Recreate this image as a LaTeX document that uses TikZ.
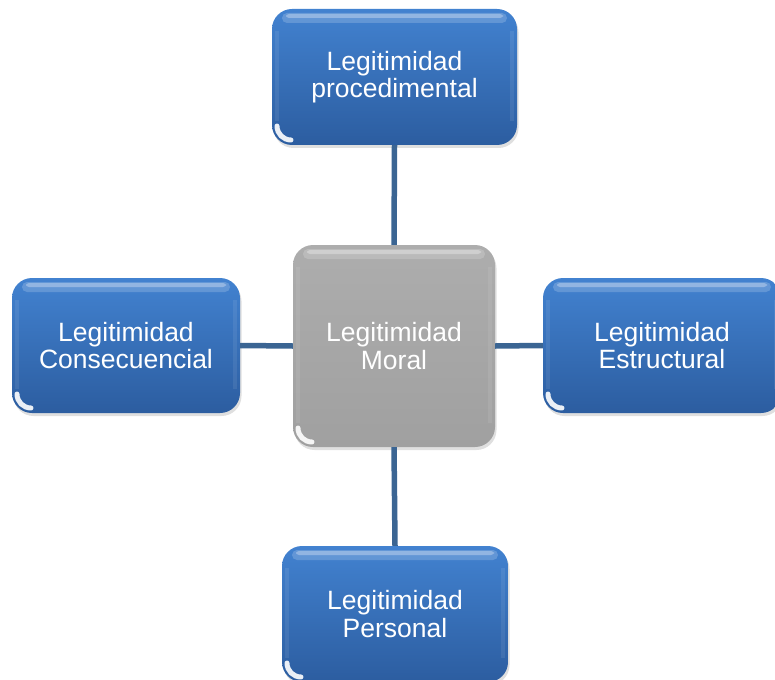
\documentclass[tikz,border=0pt]{standalone}
\usepackage{fontspec}
\setmainfont{Liberation Sans}
\usetikzlibrary{shadows}
\definecolor{blueTop}{HTML}{4282D0}
\definecolor{blueBot}{HTML}{2C5DA0}
\definecolor{grayTop}{HTML}{ADADAD}
\definecolor{grayBot}{HTML}{A0A0A0}
\definecolor{linkcol}{HTML}{3B6593}
\tikzset{
  gloss/.style={path picture={
    \begin{scope}[sharp corners]
    \fill[white,opacity=0.18,rounded corners=5pt]
      ([xshift=10pt,yshift=-4pt]path picture bounding box.north west) rectangle
      ([xshift=-10pt,yshift=-14pt]path picture bounding box.north east);
    \fill[white,opacity=0.3,rounded corners=3pt]
      ([xshift=14pt,yshift=-5pt]path picture bounding box.north west) rectangle
      ([xshift=-14pt,yshift=-9pt]path picture bounding box.north east);
    \fill[white,opacity=0.08]
      ([xshift=3pt,yshift=-22pt]path picture bounding box.north west) rectangle
      ([xshift=7pt,yshift=24pt]path picture bounding box.south west);
    \fill[white,opacity=0.08]
      ([xshift=-3pt,yshift=-22pt]path picture bounding box.north east) rectangle
      ([xshift=-7pt,yshift=24pt]path picture bounding box.south east);
    \draw[white,opacity=0.9,line width=5pt,line cap=round]
      ([xshift=5pt,yshift=19pt]path picture bounding box.south west)
      arc[start angle=180,end angle=270,radius=14pt];
    \end{scope}
  }},
  box/.style={rounded corners=20pt, inner sep=0pt, align=center, text=white,
    font=\fontsize{26.5}{27.5}\selectfont, top color=blueTop, bottom color=blueBot,
    drop shadow={opacity=0.25,shadow xshift=1.5pt,shadow yshift=-3pt}, gloss},
  hub/.style={box, top color=grayTop, bottom color=grayBot},
  link/.style={linkcol, line width=5.5pt}
}
\begin{document}
\begin{tikzpicture}[x=1pt,y=1pt]
\useasboundingbox (0,0) rectangle (775,-679);
\node[box, minimum width=245pt, minimum height=136pt] (proc) at (394.5,-77) {Legitimidad\\procedimental};
\node[hub, minimum width=202pt, minimum height=202pt] (moral) at (394,-346) {Legitimidad\\Moral};
\node[box, minimum width=228pt, minimum height=135pt] (cons) at (126,-345.5) {Legitimidad\\Consecuencial};
\node[box, minimum width=238pt, minimum height=135pt] (estr) at (662,-345.5) {Legitimidad\\Estructural};
\node[box, minimum width=226pt, minimum height=136pt] (pers) at (395,-614) {Legitimidad\\Personal};
\draw[link] (proc.south) -- (moral.north);
\draw[link] (moral.south) -- (pers.north);
\draw[link] (cons.east) -- (moral.west);
\draw[link] (moral.east) -- (estr.west);
\end{tikzpicture}
\end{document}
